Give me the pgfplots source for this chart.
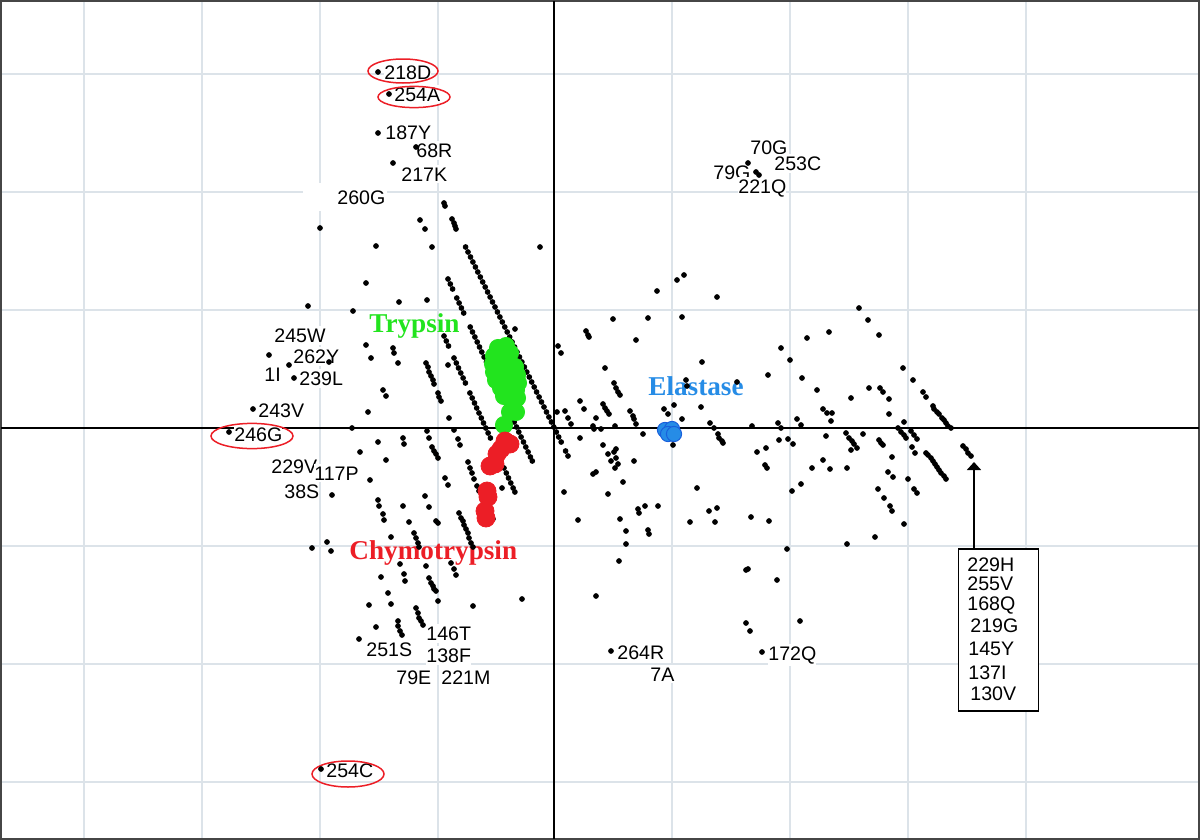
\documentclass[border=0pt]{standalone}
\usepackage{pgfplots}
\pgfplotsset{compat=1.18}
\usepackage{fontspec}
\setmainfont{Liberation Sans}
\newfontfamily\serifb{Liberation Serif}
\usetikzlibrary{arrows.meta}
\definecolor{gridc}{RGB}{220,227,233}
\definecolor{frame}{RGB}{70,70,70}
\definecolor{tgreen}{RGB}{34,228,30}
\definecolor{cred}{RGB}{236,30,38}
\definecolor{eblue}{RGB}{38,140,230}
\definecolor{eblued}{RGB}{25,95,220}
\newcommand\lab{\fontsize{9.8}{10}\selectfont}
\newcommand\grplab{\fontsize{13.6}{14}\selectfont\serifb\bfseries}
\tikzset{lab/.style={anchor=base west, inner xsep=0pt, inner ysep=1.2pt, fill=white, font=\lab},
         boxlab/.style={anchor=base west, inner sep=0pt, font=\lab}}
\begin{document}
\begin{tikzpicture}
\begin{axis}[
  scale only axis, width=599pt, height=419pt,
  xmin=0, xmax=1198, ymin=0, ymax=838, y dir=reverse,
  xtick={83,201,319,437,671,789,907,1025},
  ytick={73,191,309,545,663,781},
  xticklabels={}, yticklabels={}, major tick length=0pt,
  tick label style={inner sep=0pt},
  grid=major, grid style={gridc, line width=0.8pt},
  extra x ticks={553}, extra y ticks={427},
  extra x tick labels={}, extra y tick labels={},
  extra tick style={grid style={black, line width=0.7pt}, major tick length=0pt},
  axis line style={frame, line width=1pt},
]
% labels (drawn first)
\fill[white] (axis cs:302,182) rectangle (axis cs:386,210);
\fill[white] (axis cs:364,665) rectangle (axis cs:395,686);
\node[lab] at (axis cs:383,78) {218D};
\node[lab] at (axis cs:393,100) {254A};
\node[lab] at (axis cs:384,138) {187Y};
\node[lab] at (axis cs:415,156) {68R};
\node[lab] at (axis cs:400,180) {217K};
\node[lab] at (axis cs:336,203) {260G};
\node[lab] at (axis cs:273,341) {245W};
\node[lab] at (axis cs:292,362) {262Y};
\node[lab] at (axis cs:263,380) {1I};
\node[lab] at (axis cs:298,384) {239L};
\node[lab] at (axis cs:257,416) {243V};
\node[lab] at (axis cs:233,440) {246G};
\node[lab] at (axis cs:270,472) {229V};
\node[lab] at (axis cs:313,479) {117P};
\node[lab] at (axis cs:283,497) {38S};
\node[lab] at (axis cs:425,639) {146T};
\node[lab] at (axis cs:365,655) {251S};
\node[lab] at (axis cs:425,661) {138F};
\node[lab] at (axis cs:395,683) {79E};
\node[lab] at (axis cs:440,683) {221M};
\node[lab] at (axis cs:325,776) {254C};
\node[lab] at (axis cs:749,153) {70G};
\node[lab] at (axis cs:773,169) {253C};
\node[lab] at (axis cs:712,178) {79G};
\node[lab] at (axis cs:737,192) {221Q};
\node[lab] at (axis cs:616,658) {264R};
\node[lab] at (axis cs:649,680) {7A};
\node[lab] at (axis cs:767,659) {172Q};

% black points
\addplot[only marks, mark=*, mark size=1.2pt, black] coordinates {
(377,71) (388,93) (377,132) (415,146) (392,162) (747,162) (755,171) (758,174)
(319,227) (375,245) (539,246) (419,219) (424,228) (431,246) (443,202) (444,205)
(451,218) (453,222) (454,225) (455,228)
(365,282) (398,301) (426,299) (307,305) (352,310) (514,328) (365,344) (370,357) (392,347) (393,352) (397,362) (447,364) (382,389) (385,395) (367,411) (448,417) (351,427)
(268,354) (288,364) (293,377) (328,361) (252,408) (228,431)
(464.6,246) (467,251) (469.5,256) (471.9,261) (474.4,266) (476.8,271) (479.3,276) (481.7,281) (484.2,286) (486.6,291) (489.1,296) (491.5,301) (494,306) (496.4,311) (498.9,316) (501.3,321) (503.8,326) (506.2,331) (508.7,336) (511.1,341) (513.6,346) (516,351) (518.5,356) (520.9,361) (523.4,366) (525.8,371) (528.3,376) (530.7,381) (533.2,386) (535.6,391) (538.1,396) (540.5,401) (543,406) (545.5,411) (547.9,416) (550.4,421) (552.8,426) (555.3,431) (557.7,436) (560.2,441) (564.6,450) (567,455)
(447,278) (449.3,283) (451.6,288) (455.8,297) (458.1,302) (460.4,307) (462.7,312) (469.2,326) (471.5,331) (473.9,336) (476.2,341) (478.5,346) (480.8,351) (483.1,356) (485.4,361) (487.7,366) (490.1,371) (492.4,376) (494.7,381) (497,386) (499.3,391) (501.6,396) (503.9,401) (506.3,406) (508.6,411) (510.9,416) (513.2,421) (515.5,426) (517.8,431) (520.1,436) (522.5,441) (524.8,446) (527.1,451) (529.4,456) (531.3,460)
(443,335) (445.3,340) (447.5,345) (453,357) (455.3,362) (457.5,367) (459.8,372) (462.1,377) (464.4,382) (468.9,392) (471.2,397) (473.5,402) (475.7,407) (478,412) (480.3,417) (482.5,422) (484.8,427) (487.1,432) (489.4,437) (503,467) (505.3,472) (507.5,477) (509.8,482) (512.1,487) (513.9,491)
(425,362) (427,366) (428,371) (430,375) (432,379) (433,383) (437,392) (438,396) (440,400) (453,429) (457,438) (459,444) (467,461) (469,467) (471,472) (473,478) (476,485) (478,490) (483,498) (492,518)
(426,430) (428,437) (431,446) (433,450) (435,453) (437,457) (444,477) (447,484)
(377,441) (402,437) (403,443) (359,451) (385,459) (369,479) (331,494) (424,495) (428,506) (402,505) (377,499) (378,505) (382,513) (383,519) (408,521) (435,520) (437,522)
(458,512) (460,517) (462,520) (463,524) (465,528) (467,532) (468,537) (470,542) (472,546)
(413,532) (415,537) (417,542) (418,546) (390,536) (326,541) (330,550) (311,547)
(399,563) (425,565) (450,562) (453,568) (455,574) (380,576) (403,573) (404,580) (428,577) (430,582) (432,585) (433,588) (435,590) (387,592) (368,604) (390,603) (437,600) (472,605) (415,607) (417,612) (418,617) (420,620) (422,624) (375,626) (397,620) (397,625) (399,630) (401,634) (358,638) (521,598) (501,487)
(557,345) (560,352) (585,330) (587,334) (588,336) (612,318) (647,317) (656,290) (635,339) (604,367) (613,382) (615,387) (617,391) (619,394) (579,400) (583,408) (602,403) (604,407) (606,410) (608,413) (564,410) (567,417) (556,411) (595,417) (629,410) (632,415) (633,418)
(570,423) (579,437) (592,425) (593,428) (600,428) (614,425) (602,444) (607,453) (610,460) (613,451) (615,448) (615,457) (617,463) (614,467) (633,460) (622,481) (635,423) (642,433) (592,473) (595,471) (563,491) (607,493) (577,519) (637,508) (638,512) (644,505) (657,505) (619,518) (625,530) (647,529) (648,533) (625,543) (618,560) (595,595) (610,650) (672,444)
(676,279) (683,274) (716,296) (681,316) (701,361) (685,379) (686,385) (736,381) (663,408) (667,413) (673,404) (700,406) (681,418) (709,422) (713,427) (717,433) (718,437) (721,440) (722,442) (751,425) (777,422) (780,427) (796,418) (800,424) (778,439) (787,438) (792,443) (756,451) (765,447) (764,464) (766,467) (811,467) (822,459) (829,468) (696,487) (791,490) (800,483) (689,521) (708,510) (716,507) (714,521) (750,516) (768,520) (786,548) (745,569) (747,568) (776,579) (745,622) (749,630) (799,620) (761,651)
(828,331) (806,337) (780,347) (789,359) (767,374) (801,377) (816,389) (822,408) (826,412) (831,412) (830,420) (825,435)
(858,307) (867,319) (878,334) (902,367) (912,379) (868,387) (879,387) (882,391) (850,397) (888,398) (922,391) (925,396) (932,405) (933,408) (936,411) (938,413) (941,417) (943,419) (945,422) (947,425) (950,427) (888,413) (903,421) (897,427) (900,431) (903,434) (905,437) (910,430) (913,434) (916,438) (845,432) (848,437) (851,440) (853,443) (856,447) (862,433) (850,449) (878,439) (880,442) (882,444) (911,446) (914,452) (891,456) (925,452) (927,454) (930,457) (932,460) (934,463) (936,466) (938,469) (940,472) (943,475) (945,478) (962,445) (965,448) (967,452) (970,455) (846,467) (887,471) (892,476) (907,478) (913,488) (916,492) (877,488) (883,497) (889,505) (891,510) (846,543) (874,536) (903,523)
(320,768)
};

% Trypsin (green)
\addplot[only marks, mark=*, mark size=4.3pt, draw=tgreen, fill=tgreen] coordinates {
(497,347) (505,345) (493,355) (501,354) (509,352) (492,363) (500,362) (508,361) (514,366)
(493,371) (501,371) (509,370) (516,374) (495,379) (503,380) (511,379) (517,382)
(500,387) (508,388) (515,389) (503,395) (512,396) (516,397) (509,411) (515,411) (503,424)
};
% Chymotrypsin (red)
\addplot[only marks, mark=*, mark size=4.5pt, draw=cred, fill=cred] coordinates {
(504,440) (509,443) (500,448) (496,453) (489,465) (494,463) (486,490) (487,496) (484,510) (485,517)
};
% Elastase (blue)
\addplot[only marks, mark=*, mark size=3.8pt, draw=eblued, fill=eblue, line width=0.5pt] coordinates {
(664,429) (671,428) (667,433) (673,433)
};

\node[anchor=base west, inner sep=0pt, font=\grplab, text=tgreen] at (axis cs:368,331) {Trypsin};
\node[anchor=base west, inner sep=0pt, font=\grplab, text=cred] at (axis cs:348,558) {Chymotrypsin};
\node[anchor=base west, inner sep=0pt, font=\grplab, text=eblue] at (axis cs:647,394) {Elastase};

% ellipses
\draw[cred, line width=0.75pt] (axis cs:402,70) ellipse [x radius=17.5pt, y radius=6pt];
\draw[cred, line width=0.75pt] (axis cs:413,96) ellipse [x radius=18pt, y radius=5.3pt];
\draw[cred, line width=0.75pt] (axis cs:251,435) ellipse [x radius=20.5pt, y radius=6.3pt];
\draw[cred, line width=0.75pt] (axis cs:347,773) ellipse [x radius=18pt, y radius=6.5pt];

% arrow and box
\draw[line width=0.8pt, -{Triangle[width=7pt,length=4pt]}] (axis cs:973,548) -- (axis cs:973,461);
\draw[line width=0.6pt, fill=white] (axis cs:957.5,548) rectangle (axis cs:1037.7,710);
\node[boxlab] at (axis cs:966,570) {229H};
\node[boxlab] at (axis cs:966,589) {255V};
\node[boxlab] at (axis cs:966,609) {168Q};
\node[boxlab] at (axis cs:969,631) {219G};
\node[boxlab] at (axis cs:967,654) {145Y};
\node[boxlab] at (axis cs:967,678) {137I};
\node[boxlab] at (axis cs:969,699) {130V};
\end{axis}
\pgfresetboundingbox
\path[use as bounding box] ([shift={(-0.5pt,-0.5pt)}]current axis.south west) rectangle ([shift={(0.5pt,0.5pt)}]current axis.north east);
\end{tikzpicture}
\end{document}
